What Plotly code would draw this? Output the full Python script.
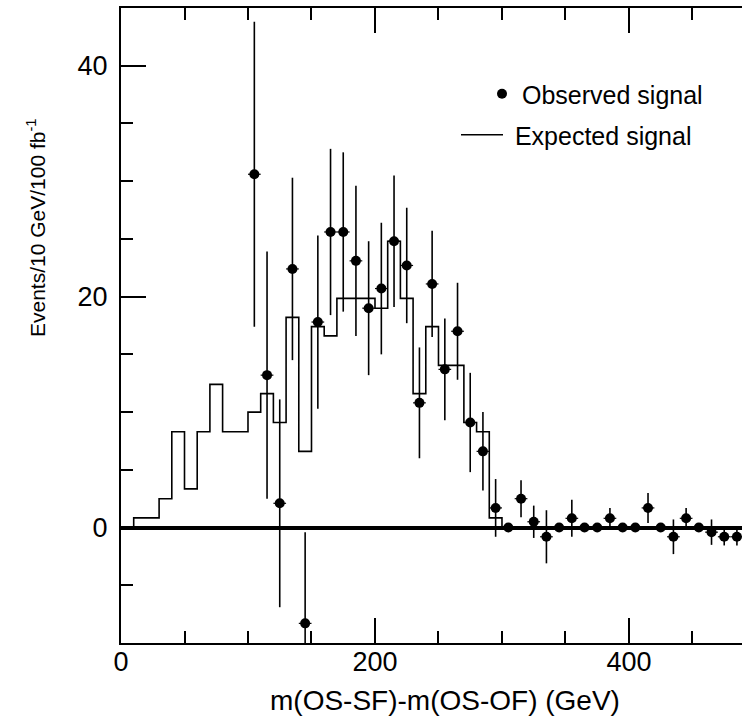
import plotly.graph_objects as go

# Expected signal: step histogram, 10 GeV bins (lower edges) and heights
exp_edges = [0, 10, 20, 30, 40, 50, 60, 70, 80, 90, 100, 110, 120, 130, 140,
             150, 160, 170, 180, 190, 200, 210, 220, 230, 240, 250, 260, 270,
             280, 290, 300]
exp_vals = [0.0, 0.84, 0.84, 2.5, 8.3, 3.35, 8.3, 12.4, 8.3, 8.3, 10.0, 11.6,
            9.1, 18.2, 6.6, 17.4, 16.6, 19.85, 19.85, 19.85, 19.0, 24.8, 19.85,
            11.6, 17.4, 14.05, 14.05, 9.1, 8.3, 0.84, 0.0]

# Observed signal: bin centres, values and errors
obs_x = [105, 115, 125, 135, 145, 155, 165, 175, 185, 195, 205, 215, 225, 235,
         245, 255, 265, 275, 285, 295, 305, 315, 325, 335, 345, 355, 365, 375,
         385, 395, 405, 415, 425, 435, 445, 455, 465, 475, 485]
obs_y = [30.6, 13.2, 2.1, 22.4, -8.3, 17.8, 25.6, 25.6, 23.1, 19.0, 20.7, 24.8,
         22.7, 10.8, 21.1, 13.7, 17.0, 9.1, 6.6, 1.7, 0.0, 2.5, 0.5, -0.8, 0.0,
         0.8, 0.0, 0.0, 0.8, 0.0, 0.0, 1.7, 0.0, -0.8, 0.8, 0.0, -0.4, -0.8, -0.8]
obs_err = [13.2, 10.7, 9.0, 7.9, 7.9, 7.5, 7.2, 6.9, 6.5, 5.8, 5.7, 5.7, 5.0,
           4.8, 4.6, 4.4, 4.2, 4.3, 3.4, 2.5, 0.0, 1.6, 1.4, 2.3, 0.0, 1.6, 0.0,
           0.0, 0.9, 0.0, 0.0, 1.3, 0.0, 1.5, 0.9, 0.0, 1.1, 0.75, 0.75]
bin_half_width = 5

x_title = "m(OS-SF)-m(OS-OF) (GeV)"
y_title = "Events/10 GeV/100 fb<sup>-1</sup>"
FONT = "Liberation Sans, Arial, Helvetica, sans-serif"

fig = go.Figure()

fig.add_trace(go.Scatter(
    x=exp_edges, y=exp_vals, mode="lines",
    line=dict(shape="hv", color="black", width=1.6),
    name="\u00a0Expected signal", legend="legend2", hoverinfo="skip",
))

fig.add_trace(go.Scatter(
    x=obs_x, y=obs_y, mode="markers",
    marker=dict(size=10, color="black"),
    error_y=dict(type="data", array=obs_err, width=0, thickness=1.6, color="black"),
    error_x=dict(type="constant", value=bin_half_width, width=0, thickness=1.2, color="black"),
    name="Observed signal", legend="legend",
))

fig.update_layout(
    width=742, height=721,
    margin=dict(l=121, r=0, t=8, b=78),
    paper_bgcolor="white", plot_bgcolor="white",
    font=dict(family=FONT, color="black"),
    showlegend=True,
    legend=dict(x=(482 - 121) / 621, y=(643 - 71) / 635, xanchor="left", yanchor="top",
                font=dict(size=25, family=FONT), bgcolor="rgba(0,0,0,0)",
                itemwidth=30),
    legend2=dict(x=(456 - 121) / 621, y=(643 - 112) / 635, xanchor="left", yanchor="top",
                 font=dict(size=25, family=FONT), bgcolor="rgba(0,0,0,0)",
                 itemwidth=42),
    xaxis=dict(
        range=[0, 489], showgrid=False, zeroline=False,
        showline=True, linecolor="black", linewidth=2, mirror="ticks",
        ticks="inside", ticklen=25, tickwidth=1.6, tickcolor="black",
        dtick=200, tick0=0,
        minor=dict(dtick=50, ticks="inside", ticklen=12, tickwidth=1.6, tickcolor="black", showgrid=False),
        tickfont=dict(size=27, family=FONT),
        ticklabelstandoff=-6,
    ),
    yaxis=dict(
        range=[-10, 45], showgrid=False,
        zeroline=True, zerolinecolor="black", zerolinewidth=3.5,
        showline=True, linecolor="black", linewidth=2, mirror=False,
        ticks="inside", ticklen=25, tickwidth=1.6, tickcolor="black",
        dtick=20, tick0=0,
        minor=dict(dtick=5, ticks="inside", ticklen=12, tickwidth=1.6, tickcolor="black", showgrid=False),
        tickfont=dict(size=27, family=FONT),
        ticklabelstandoff=6,
    ),
    annotations=[
        dict(text=x_title, xref="paper", yref="paper",
             x=(445 - 121) / 621, y=(643 - 700) / 635, xanchor="center", yanchor="middle",
             showarrow=False, font=dict(size=28, family=FONT)),
        dict(text=y_title, xref="paper", yref="paper",
             x=(36 - 121) / 621, y=(643 - 228) / 635, xanchor="center", yanchor="middle",
             textangle=-90, showarrow=False, font=dict(size=21, family=FONT)),
    ],
)

fig.write_html("out.html", config={"displayModeBar": False},
               post_script="document.body.style.margin='0';")
